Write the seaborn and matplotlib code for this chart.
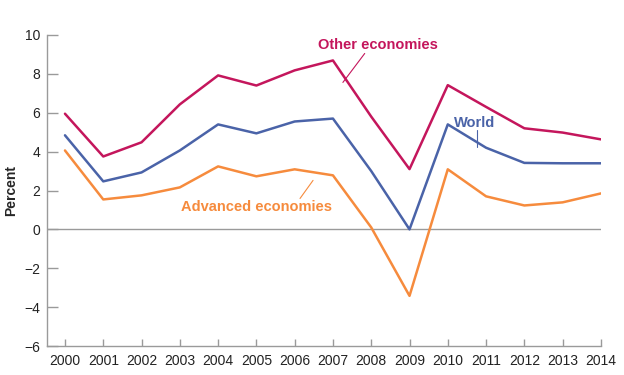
import matplotlib
matplotlib.use("Agg")

import matplotlib.pyplot as plt
import pandas as pd
import seaborn as sns

# ----------------------------------------------------------
# Data
# ----------------------------------------------------------

YEARS = list(range(2000, 2015))

OTHER = [5.95, 3.75, 4.48, 6.43, 7.92, 7.40, 8.18, 8.69,
         5.80, 3.10, 7.42, 6.30, 5.20, 4.98, 4.63]

WORLD = [4.84, 2.47, 2.93, 4.06, 5.40, 4.94, 5.55, 5.70,
         3.00, 0.00, 5.40, 4.20, 3.42, 3.40, 3.40]

ADVANCED = [4.06, 1.54, 1.75, 2.16, 3.24, 2.73, 3.09, 2.78,
            0.10, -3.42, 3.09, 1.70, 1.23, 1.39, 1.85]

SERIES = ["Other economies", "World", "Advanced economies"]

COLORS = {
    "Other economies": "#C4165C",
    "World": "#4A63A8",
    "Advanced economies": "#F68B3D",
}

Y_TICKS = [-6, -4, -2, 0, 2, 4, 6, 8, 10]

# label position and leader line (start, end) per series, in data units
LABELS = {
    "Other economies": ((2008.17, 9.46), (2007.83, 9.05), (2007.26, 7.56)),
    "World": ((2010.70, 5.45), (2010.76, 5.09), (2010.76, 4.22)),
    "Advanced economies": ((2004.99, 1.13), (2006.48, 2.52), (2006.14, 1.59)),
}

# ----------------------------------------------------------
# Long-form table
# ----------------------------------------------------------

frames = []
for name, values in zip(SERIES, [OTHER, WORLD, ADVANCED]):
    frames.append(pd.DataFrame({"year": YEARS, "value": values, "series": name}))
data = pd.concat(frames, ignore_index=True)

# ----------------------------------------------------------
# Figure
# ----------------------------------------------------------

sns.set_theme(style="white")
plt.rcParams["font.family"] = ["Liberation Sans", "DejaVu Sans"]

fig = plt.figure(figsize=(6.24, 3.75), dpi=100)
ax = fig.add_axes([0.0753, 0.0773, 0.8877, 0.8294])

sns.lineplot(
    data=data,
    x="year",
    y="value",
    hue="series",
    palette=COLORS,
    linewidth=1.8,
    legend=False,
    ax=ax,
)

ax.axhline(0, color="#9a9a9a", linewidth=1.0, zorder=0)

ax.set_xlim(1999.53, 2014)
ax.set_ylim(-6, 10)
ax.set_xticks(YEARS)
ax.set_xticklabels([str(y) for y in YEARS])
ax.set_yticks(Y_TICKS)

for side in ["top", "right"]:
    ax.spines[side].set_visible(False)
for side in ["left", "bottom"]:
    ax.spines[side].set_color("#9a9a9a")
    ax.spines[side].set_linewidth(1.0)

ax.tick_params(axis="y", direction="in", length=8, width=1.0, left=True,
               color="#9a9a9a", labelsize=10, labelcolor="#222222", pad=5)
ax.tick_params(axis="x", direction="in", length=5, width=1.0, bottom=True,
               color="#9a9a9a", labelsize=10, labelcolor="#222222", pad=6)

ax.set_xlabel("")
ax.set_ylabel("Percent", fontsize=10, fontweight="bold", labelpad=4)

# ----------------------------------------------------------
# Direct labels with leader lines
# ----------------------------------------------------------

for name, (text_pos, start, end) in LABELS.items():
    ax.text(
        text_pos[0], text_pos[1], name,
        ha="center", va="center",
        fontsize=10.5, fontweight="bold",
        color=COLORS[name],
    )
    ax.plot(
        [start[0], end[0]], [start[1], end[1]],
        color=COLORS[name], linewidth=0.8,
    )

fig.savefig("out.png", dpi=100)
